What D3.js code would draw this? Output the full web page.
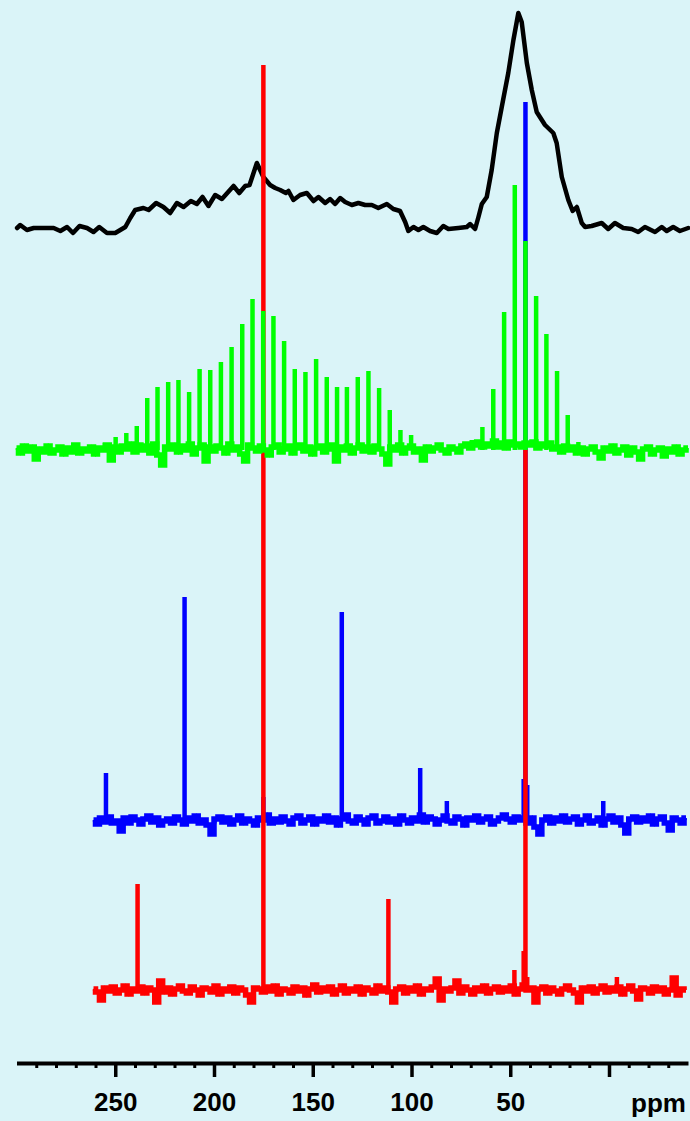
<!DOCTYPE html>
<html>
<head>
<meta charset="utf-8">
<script src="https://cdn.jsdelivr.net/npm/d3@7"></script>
<style>
  html, body { margin: 0; padding: 0; background: #daf4f8; }
  svg { display: block; }
</style>
</head>
<body>
<svg id="chart" width="690" height="1121"></svg>
<script>
// ---- chemical shift axis (ppm runs right to left) ----
const ppmDomain = [300, -40];
const majorTicks = [250, 200, 150, 100, 50, 0];
const minorTicks = [290, 280, 270, 260, 240, 230, 220, 210, 190, 180, 170, 160,
                    140, 130, 120, 110, 90, 80, 70, 60, 40, 30, 20, 10, -10, -20, -30];
const tickLabels = ["250", "200", "150", "100", "50", ""];
const axisTitle = "ppm";

// ---- static (broad) spectrum: [ppm, intensity a.u.] ----
const broadSpectrum = [
  [299.7, 0], [298.1, 3], [294.7, -2], [291.3, 0], [286.3, 0], [281.2, 0], [277.8, -3],
  [274.4, 1], [271.4, -5], [268.1, 2], [264.3, 0], [261.0, -4], [258.1, 1], [254.2, -5],
  [250.0, -5], [244.9, 1], [242.4, 10], [239.9, 18], [235.7, 20], [233.1, 18], [229.3, 25],
  [225.6, 21], [222.2, 15], [218.8, 25], [215.4, 21], [211.7, 27], [208.7, 24], [205.8, 31],
  [202.8, 22], [199.4, 33], [196.0, 29], [190.1, 42], [187.2, 35], [184.2, 42], [182.0, 43],
  [178.3, 65], [175.0, 51], [171.6, 43], [169.0, 40], [166.5, 38], [163.6, 35], [162.3, 37],
  [159.8, 28], [156.4, 33], [153.0, 35], [149.6, 27], [147.1, 31], [143.7, 25], [141.2, 29],
  [138.7, 24], [136.1, 30], [133.6, 26], [130.2, 23], [126.9, 25], [123.5, 23], [120.1, 23],
  [116.8, 20], [112.5, 24], [109.2, 19], [105.8, 17], [103.2, 6], [101.6, -3], [99.0, 1],
  [96.5, -2], [94.0, 1], [90.6, -3], [87.2, -5], [83.9, 2], [81.3, -1], [76.3, 0], [72.0, 1],
  [70.3, 4], [67.8, -1], [66.1, 11], [64.4, 24], [61.9, 31], [59.4, 58], [56.8, 95],
  [54.3, 121], [51.0, 155], [48.4, 188], [45.9, 215], [44.2, 206], [41.6, 165], [39.1, 138],
  [36.6, 116], [32.4, 103], [28.2, 95], [26.5, 85], [23.9, 51], [20.6, 28], [18.4, 17],
  [16.3, 21], [13.8, 5], [12.1, 1], [8.8, 2], [3.7, 5], [0.4, -1], [-3.0, 5], [-7.2, 0],
  [-11.5, -1], [-14.8, -4], [-18.2, 1], [-23.3, -4], [-26.7, 1], [-29.2, -3], [-32.5, 1],
  [-35.9, -3], [-40.1, 0]
];

// ---- MAS spectrum with spinning sidebands ----
const sidebandNoiseStart = 300;   // ppm of first noise sample, 2 ppm spacing
const sidebandNoise = [
  2, -3, 4, -1, 3, -9, 1, -2, 4, -3,
  0, 3, -4, 2, -2, 5, -3, 1, -1, 3,
  -4, 2, 0, 5, -10, 3, -2, 4, 1, 6,
  -2, 5, 0, 4, -3, 6, -5, -15, 3, 1,
  5, -2, 4, 0, 6, -4, 2, 5, -11, 3,
  -1, 4, 2, -3, 6, 0, 3, -4, -11, 5,
  2, -1, 4, 0, -5, 3, 5, -2, 1, 4,
  -3, 2, 5, -1, 3, -4, 2, 4, -2, 1,
  5, -11, 3, 0, 4, -3, 2, 5, -1, 3,
  -2, 4, 1, -4, -14, 3, 0, 5, -3, 2,
  4, -2, 1, -10, 3, -1, 2, 5, 0, -3,
  3, 1, -2, 4, 6, 2, 5, 8, 3, 6,
  4, 9, 3, 7, 2, 8, 5, 6, 3, 7,
  5, 8, 2, 6, 4, 7, 1, 3, -2, 4,
  0, 3, -3, 2, -4, 1, 3, -2, -8, 2,
  -1, 4, -3, 0, 3, -5, 2, -2, -9, 1,
  3, -4, 0, 2, -6, 1, -2, 3, -4, 0, 2
];
const sidebandPeaks = [
  [255.2, 7], [249.8, 13], [244.4, 17], [239.1, 24], [233.8, 52], [228.6, 63], [223.2, 68],
  [218.0, 70], [212.6, 58], [207.3, 81], [201.9, 80], [196.5, 88], [191.1, 103], [185.7, 126],
  [180.5, 151], [175.1, 139], [169.9, 134], [164.5, 109], [159.1, 81], [153.7, 78],
  [148.3, 91], [142.9, 73], [137.7, 63], [132.7, 63], [127.2, 73], [121.8, 79], [116.4, 62],
  [111.0, 40], [105.6, 20], [100.2, 15], [69.5, 10], [64.1, 23], [58.6, 61], [53.1, 138],
  [47.7, 265], [42.3, 209], [36.9, 154], [31.7, 116], [26.3, 79], [20.9, 35], [15.5, 8]
];

// ---- blue spectrum ----
const blueNoiseStart = 261;
const blueNoise = [
  1, -3, 3, -1, 4, -2, 0, -10, 3, -2,
  4, 1, -3, 2, 5, -1, 3, -4, 0, 2,
  -2, 4, 1, -3, 3, 0, 5, -2, 1, -4,
  -13, 2, 4, -1, 3, -3, 1, 5, -2, 2,
  0, -4, 3, 1, 6, -2, 2, -1, 4, 0,
  -3, 3, 5, -2, 1, 4, -3, 2, 0, 5,
  -1, 3, -4, 2, 6, 0, -2, 4, 1, -3,
  3, 5, -2, 0, 4, -1, 2, -3, 5, 1,
  -2, 3, 0, 6, -1, 4, 2, -3, 1, 5,
  0, -2, 4, 2, -4, 3, 1, 5, -1, 2,
  4, -3, 0, 3, 6, 2, -1, 4, 1, 3,
  -2, 3, -6, -13, 1, 4, -2, 3, 0, 5,
  -1, 2, 4, -3, 1, 5, -2, 0, 3, -4,
  2, 5, -1, 3, -4, -12, 2, 4, -1, 3,
  0, 5, -3, 2, 4, -2, -9, 3, 1, -2,
  3
];
const bluePeaks = [
  [254.7, 48], [214.9, 224], [175.0, 24], [135.3, 209], [95.6, 53], [82.1, 20],
  [43.2, 42], [41.4, 36], [42.3, 719], [2.9, 20]
];

// ---- red spectrum ----
const redNoiseStart = 261;
const redNoise = [
  2, -1, -9, 3, 0, 4, -2, 1, 5, -3,
  2, 0, 4, -2, 3, 1, -11, 10, -1, 3,
  -3, 2, 5, 0, -2, 4, 1, -4, 3, 2,
  -1, 5, -3, 2, 0, 4, -2, 3, 1, -4,
  -11, 3, 2, -1, 4, 0, 5, -3, 2, 1,
  -2, 4, 0, 3, -4, 2, 6, -1, 3, 0,
  4, -3, 1, 5, -2, 2, 0, 4, -3, 3,
  1, -2, 5, 0, 3, -1, -11, 2, 4, -2,
  3, 0, 5, -3, 2, 1, 4, 12, -9, 2,
  0, 3, 10, -2, 4, 1, -3, 3, 0, 5,
  -2, 2, 4, -1, 3, 0, 5, -3, 2, 6,
  1, 3, -11, 2, 4, -2, 3, 0, -3, 2,
  5, 1, -2, -11, 3, 0, 4, -2, 2, 5,
  -1, 3, 0, 4, -3, 2, 5, 0, -8, 3,
  2, -2, 4, 0, 3, -3, 1, 13, -4, 2,
  1
];
const redPeaks = [
  [238.7, 107], [175.0, 926], [111.7, 92], [47.9, 21], [43.2, 40], [41.4, 14],
  [42.3, 542], [-4.0, 14]
];

// ---- layout ----
const W = 690, H = 1121;
const axisY = 1063;
const svg = d3.select("#chart");

svg.append("rect").attr("width", W).attr("height", H).attr("fill", "#daf4f8");

const x = d3.scaleLinear().domain(ppmDomain).range([16.5, 688]);

// each trace gets its own vertical offset (stacked plot)
function traceScale(baseline) {
  return d3.scaleLinear().domain([0, 100]).range([baseline, baseline - 100]);
}

function noisePoints(start, values) {
  return values.map((v, i) => [start - 2 * i, v]);
}

function drawTrace(color, baseline, noiseStart, noise, peaks) {
  const y = traceScale(baseline);
  const g = svg.append("g");
  const pts = noisePoints(noiseStart, noise);
  // noise floor: stepped band with the sample-to-sample trace on top
  g.append("path")
    .datum(pts)
    .attr("d", d3.line().curve(d3.curveStep).x(d => x(d[0])).y(d => y(d[1])))
    .attr("fill", "none")
    .attr("stroke", color)
    .attr("stroke-width", 5.5)
    .attr("stroke-linejoin", "miter");
  g.append("path")
    .datum(pts)
    .attr("d", d3.line().x(d => x(d[0])).y(d => y(d[1])))
    .attr("fill", "none")
    .attr("stroke", color)
    .attr("stroke-width", 3)
    .attr("stroke-linejoin", "miter")
    .attr("stroke-miterlimit", 2);
  g.selectAll("line.peak")
    .data(peaks)
    .join("line")
    .attr("class", "peak")
    .attr("x1", d => x(d[0]))
    .attr("x2", d => x(d[0]))
    .attr("y1", y(0))
    .attr("y2", d => y(d[1]))
    .attr("stroke", color)
    .attr("stroke-width", 4.5)
    .attr("stroke-linecap", "butt");
}

// static spectrum (top)
{
  const y = traceScale(228);
  svg.append("path")
    .datum(broadSpectrum)
    .attr("d", d3.line().x(d => x(d[0])).y(d => y(d[1])))
    .attr("fill", "none")
    .attr("stroke", "#000")
    .attr("stroke-width", 4.5)
    .attr("stroke-linejoin", "round")
    .attr("stroke-linecap", "round");
}

drawTrace("#0000ff", 821, blueNoiseStart, blueNoise, bluePeaks);
drawTrace("#ff0000", 991, redNoiseStart, redNoise, redPeaks);
drawTrace("#00ff00", 450, sidebandNoiseStart, sidebandNoise, sidebandPeaks);

// ---- axis ----
const axisG = svg.append("g").attr("transform", `translate(0,${axisY})`);

axisG.append("g")
  .call(d3.axisBottom(x).tickValues(minorTicks).tickSize(5).tickSizeOuter(0).tickFormat(""))
  .call(g => g.select(".domain").remove())
  .call(g => g.selectAll(".tick line").attr("stroke", "#000").attr("stroke-width", 3));

axisG.append("g")
  .call(d3.axisBottom(x).tickValues(majorTicks).tickSize(14).tickSizeOuter(0)
        .tickPadding(16).tickFormat((d, i) => tickLabels[i]))
  .call(g => g.select(".domain").attr("stroke", "#000").attr("stroke-width", 4))
  .call(g => g.selectAll(".tick line").attr("stroke", "#000").attr("stroke-width", 3.5))
  .call(g => g.selectAll(".tick text")
    .attr("fill", "#000")
    .style("font-family", "'Liberation Sans', Arial, sans-serif")
    .style("font-weight", "bold")
    .style("font-size", "26px"));

svg.append("text")
  .attr("x", 686)
  .attr("y", 1112)
  .attr("text-anchor", "end")
  .style("font-family", "'Liberation Sans', Arial, sans-serif")
  .style("font-weight", "bold")
  .style("font-size", "26px")
  .attr("fill", "#000")
  .text(axisTitle);
</script>
</body>
</html>
